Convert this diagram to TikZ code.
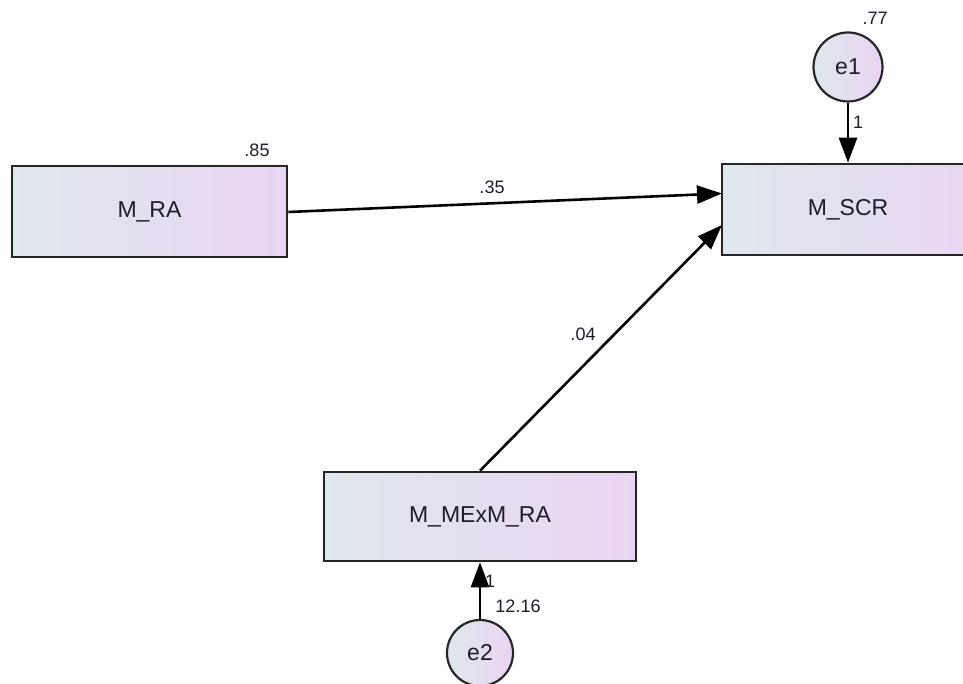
\documentclass[tikz,border=0pt]{standalone}
\usepackage{fontspec}
\setmainfont{Liberation Sans}
\usetikzlibrary{arrows.meta}
\definecolor{boxleft}{HTML}{DFE8EC}
\definecolor{boxright}{HTML}{EAD4F3}
\definecolor{ink}{HTML}{1C1C2A}
\tikzset{
  varbox/.style={draw=black!85, line width=2.6pt, left color=boxleft, right color=boxright,
    minimum width=275pt, minimum height=91pt, inner sep=0pt, text=ink,
    font=\fontsize{23}{25}\selectfont},
  errvar/.style={circle, draw=black!85, line width=2.2pt, shading=axis, shading angle=-45,
    left color=boxleft, right color=boxright, minimum size=69pt, inner sep=0pt, text=ink,
    font=\fontsize{23}{25}\selectfont},
  path/.style={line width=2.6pt, -{Triangle[length=25pt,width=18pt]}},
  est/.style={text=ink, font=\fontsize{18}{20}\selectfont, inner sep=0pt}
}
\begin{document}
\begin{tikzpicture}[x=1pt,y=-1pt]
  \useasboundingbox (0,0) rectangle (963,684);
  % observed variables
  \node[varbox] (ra)  at (149.5,211.5) {M\_RA};
  \node[varbox] (scr) at (859.5,209.5) {};
  \node[text=ink, font=\fontsize{23}{25}\selectfont] (scrlabel) at (848,210) {M\_SCR};
  \node[varbox, minimum width=312pt, minimum height=89pt] (mex) at (480,516.5) {M\_MExM\_RA};
  % error terms
  \node[errvar] (e1) at (848,67) {e1};
  \node[errvar, minimum size=66pt] (e2) at (480,653) {e2};
  % anchor points on the dependent box
  \coordinate (scrA) at (722,193.5);
  \coordinate (scrB) at (722,225);
  % regression paths
  \draw[path] (ra.east |- 0,212) -- (scrA);
  \draw[path] (mex.north) -- (scrB);
  \draw[path] (e1.south) -- (e1.south |- scr.north);
  \draw[path] (e2.north) -- (mex.south);
  % estimates
  \node[est] (v85)  at (257,150) {.85};
  \node[est] (v77)  at (875,18)  {.77};
  \node[est] (v35)  at (492,187) {.35};
  \node[est] (v04)  at (583,334) {.04};
  \node[est] (w1)   at (858,122) {1};
  \node[est] (w2)   at (490,581) {1};
  \node[est] (v1216) at (518,606) {12.16};
\end{tikzpicture}
\end{document}
